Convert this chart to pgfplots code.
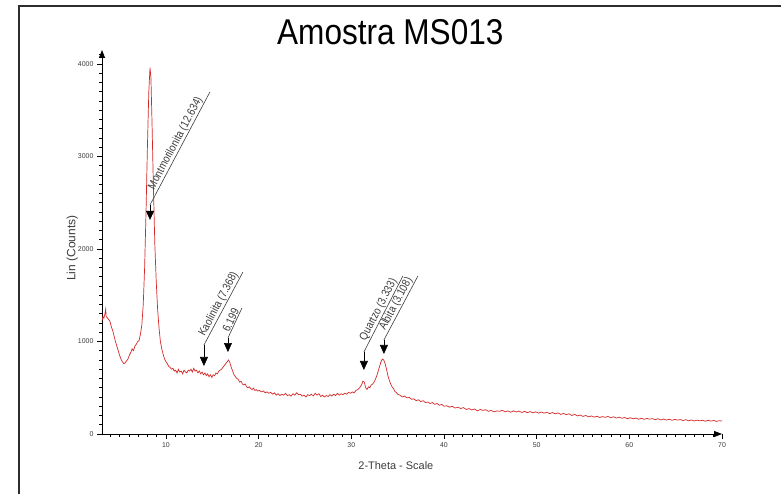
\documentclass[border=0pt]{standalone}
\usepackage{fontspec}
\setmainfont{Liberation Sans}
\newfontfamily\narrowfont[FakeStretch=0.88]{Liberation Sans}
\newfontfamily\condfont[FakeStretch=0.85]{Liberation Sans}
\usepackage{pgfplots}
\usepackage{pgfplotstable}
\pgfplotsset{compat=1.18}
\usetikzlibrary{arrows.meta}
\definecolor{xrdred}{RGB}{214,40,40}
\definecolor{framegray}{RGB}{45,45,45}
\definecolor{labgray}{RGB}{60,60,60}

\pgfplotstableread{
x y
3.10 1220
3.20 1270
3.30 1250
3.40 1290
3.50 1350
3.55 1270
3.65 1260
3.80 1240
3.95 1220
4.10 1160
4.25 1120
4.40 1060
4.55 1000
4.70 950
4.85 900
5.00 850
5.15 810
5.30 780
5.45 760
5.60 770
5.75 790
5.90 810
6.05 850
6.20 880
6.35 920
6.50 900
6.65 950
6.80 970
6.95 1000
7.10 1010
7.25 1080
7.40 1180
7.55 1400
7.70 1800
7.85 2400
8.00 3100
8.15 3700
8.28 3960
8.38 3850
8.50 3350
8.65 2650
8.80 2050
8.95 1650
9.10 1350
9.25 1150
9.40 1000
9.55 920
9.70 860
9.85 810
10.00 780
10.15 760
10.30 730
10.45 720
10.60 700
10.75 710
10.90 680
11.05 690
11.20 660
11.35 700
11.50 670
11.65 680
11.80 650
11.95 690
12.10 670
12.25 660
12.40 690
12.55 680
12.70 700
12.85 670
13.00 710
13.15 680
13.30 690
13.45 660
13.60 680
13.75 650
13.90 670
14.05 640
14.20 660
14.35 630
14.50 650
14.65 620
14.80 640
14.95 610
15.10 640
15.25 630
15.40 660
15.55 650
15.70 680
15.85 690
16.00 700
16.15 720
16.30 740
16.45 760
16.60 780
16.75 800
16.90 770
17.05 720
17.20 680
17.35 640
17.50 620
17.65 600
17.80 590
17.95 560
18.10 570
18.25 540
18.40 530
18.55 540
18.70 510
18.85 500
19.00 510
19.15 490
19.30 480
19.45 495
19.60 470
19.75 480
19.90 465
20.10 470
20.30 455
20.50 465
20.70 445
20.90 455
21.10 440
21.30 450
21.50 430
21.70 445
21.90 420
22.10 435
22.30 415
22.50 430
22.70 420
22.90 440
23.10 415
23.30 425
23.50 410
23.70 435
23.90 420
24.10 445
24.30 425
24.50 430
24.70 410
24.90 420
25.10 400
25.30 425
25.50 415
25.70 430
25.90 410
26.10 440
26.30 420
26.50 435
26.70 405
26.90 420
27.10 400
27.30 415
27.50 405
27.70 425
27.90 410
28.10 430
28.30 415
28.50 440
28.70 420
28.90 435
29.10 425
29.30 440
29.50 430
29.70 450
29.90 440
30.10 455
30.30 445
30.50 470
30.70 480
30.90 500
31.10 530
31.25 570
31.40 560
31.55 500
31.70 480
31.85 510
32.00 500
32.15 530
32.30 540
32.45 560
32.60 590
32.75 630
32.90 680
33.05 730
33.20 780
33.35 810
33.50 800
33.65 760
33.80 700
33.95 630
34.10 580
34.25 540
34.40 510
34.55 490
34.70 460
34.85 450
35.00 430
35.25 420
35.50 400
35.75 410
36.00 390
36.25 395
36.50 375
36.75 380
37.00 360
37.25 370
37.50 350
37.75 360
38.00 340
38.25 345
38.50 330
38.75 340
39.00 320
39.25 330
39.50 310
39.75 320
40.00 300
40.30 305
40.60 290
40.90 300
41.20 280
41.50 290
41.80 275
42.10 285
42.40 265
42.70 275
43.00 260
43.30 270
43.60 250
43.90 265
44.20 255
44.50 262
44.80 245
45.10 255
45.40 240
45.70 250
46.00 245
46.30 255
46.60 240
46.90 250
47.20 235
47.50 250
47.80 238
48.10 248
48.40 232
48.70 245
49.00 230
49.30 242
49.60 228
49.90 240
50.20 225
50.50 238
50.80 225
51.10 235
51.40 220
51.70 232
52.00 218
52.30 228
52.60 212
52.90 222
53.20 210
53.50 218
53.80 200
54.10 212
54.40 195
54.70 205
55.00 190
55.30 200
55.60 185
55.90 195
56.20 182
56.50 192
56.80 178
57.10 188
57.40 180
57.70 190
58.00 175
58.30 186
58.60 172
58.90 182
59.20 170
59.50 178
59.80 165
60.10 176
60.40 164
60.70 172
61.00 160
61.30 170
61.60 158
61.90 168
62.20 160
62.50 166
62.80 155
63.10 165
63.40 152
63.70 162
64.00 150
64.30 160
64.60 148
64.90 158
65.20 150
65.50 156
65.80 145
66.10 155
66.40 142
66.70 152
67.00 140
67.30 150
67.60 142
67.90 148
68.20 138
68.50 148
68.80 140
69.10 146
69.40 136
69.70 144
70.00 140
}\xrd

% tipx tipy stemy endx endy text
\newcommand{\peak}[6]{%
  \draw[labgray, line width=0.6bp] (axis cs:#1,#3) -- node[sloped, above, pos=0.52, inner sep=0.6bp, font=\condfont\fontsize{11.5}{12}\selectfont, text=labgray] {#6} (axis cs:#4,#5);
  \draw[black, line width=0.6bp, -{Triangle[width=8bp,length=9bp]}] (axis cs:#1,#3) -- (axis cs:#1,#2);
}

\begin{document}
\begin{tikzpicture}[x=1bp,y=1bp]
\useasboundingbox (0,0) rectangle (781,494);
\fill[white] (0,0) rectangle (781,494);
\draw[framegray, line width=2.5bp] (19,0) -- (19,488) -- (781,488);
\begin{axis}[
  at={(102bp,60bp)}, anchor=south west,
  scale only axis, width=620bp, height=384bp,
  xmin=3.1, xmax=70, ymin=0, ymax=4150,
  axis lines=left,
  axis line style={line width=0.8bp, black, -{Triangle[width=6bp,length=8bp]}},
  xtick={10,20,...,70}, ytick={0,1000,...,4000},
  minor xtick={4,5,...,69}, minor ytick={100,200,...,4100},
  tick align=outside, major tick length=5bp, minor tick length=3bp,
  tick style={black, line width=0.5bp},
  tick label style={font=\fontsize{7}{8}\selectfont, text=labgray},
  /pgf/number format/assume math mode=true,
  /pgf/number format/set thousands separator={},
  xlabel={2-Theta - Scale},
  xlabel style={at={(axis description cs:0.474,-0.083)}, anchor=center, font=\fontsize{11}{13}\selectfont, text=labgray},
  ylabel={Lin (Counts)},
  ylabel style={at={(axis description cs:-0.048,0.484)}, anchor=center, font=\fontsize{12}{14}\selectfont, text=labgray},
  title={Amostra MS013},
  title style={at={(axis description cs:0.465,1.031)}, anchor=center, font=\narrowfont\fontsize{36}{40}\selectfont},
  clip=false,
]
\addplot[xrdred, line width=0.7bp] table[x=x,y=y]{\xrd};
\peak{8.28}{2314}{2476}{14.75}{3697}{Montmorilonita (12.634)}
\peak{14.1}{735}{962}{18.31}{1751}{Kaolinita (7.368)}
\peak{16.69}{886}{1038}{18.2}{1362}{6.199}
\peak{31.36}{692}{886}{35.57}{1708}{Quartzo (3.333)}
\peak{33.52}{865}{1016}{37.19}{1708}{Albita (3.108)}
\end{axis}
\end{tikzpicture}
\end{document}
